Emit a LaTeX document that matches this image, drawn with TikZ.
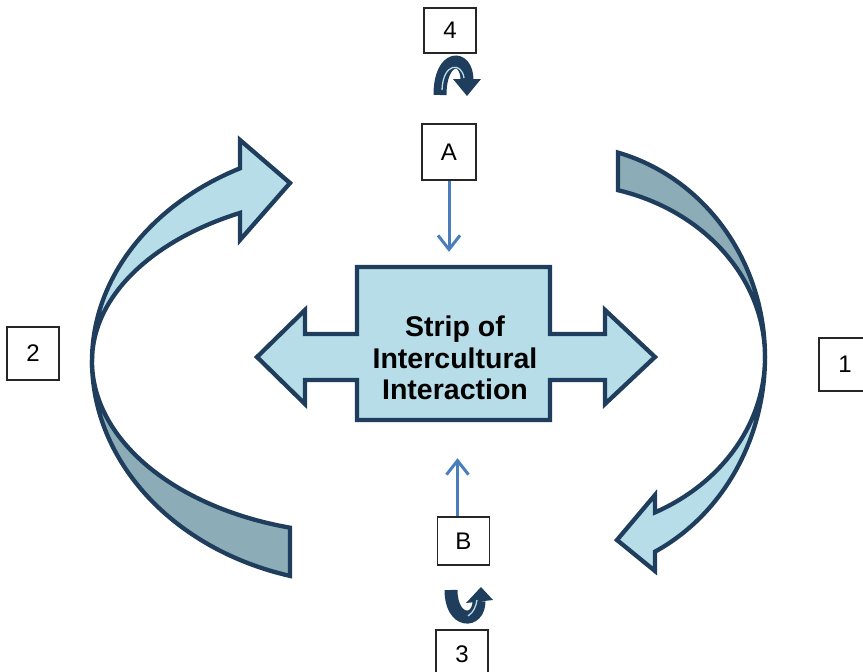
\documentclass[tikz,border=0pt]{standalone}
\usepackage{fontspec}
\setmainfont{Liberation Sans}
\usetikzlibrary{arrows.meta,positioning,calc}
\definecolor{xnavy}{RGB}{31,61,92}
\definecolor{xsky}{RGB}{183,221,232}
\definecolor{xslate}{RGB}{140,173,183}
\definecolor{xsteel}{RGB}{74,126,187}

\begin{document}
\begin{tikzpicture}[x=1pt, y=1pt, yscale=-1,
  band/.style={draw=xnavy, line width=4.3pt, line join=miter},
  numbox/.style={draw=black!85, fill=white, line width=1.3pt, inner sep=0pt,
                 minimum width=52pt, minimum height=46pt,
                 font=\fontsize{24}{28}\selectfont},
  stripfont/.style={font=\bfseries\fontsize{28.5}{31.5}\selectfont, align=center},
  thinarr/.style={-{Straight Barb[length=14pt,width=22pt]}, draw=xsteel, line width=3pt},
  uturn/.style={draw=xnavy, line width=13pt},
  shine/.style={draw=xsky, line width=1.3pt}
]
  \useasboundingbox (0,0) rectangle (863,672);

  % left curved arrow (back face, then front face)
  \filldraw[band, fill=xslate] (92,361)
    arc[start angle=180, end angle=105.47, x radius=270, y radius=223] -- (290,527.7)
    arc[start angle=105.47, end angle=180, x radius=270, y radius=173] -- cycle;
  \filldraw[band, fill=xsky] (92,361)
    arc[start angle=180, end angle=243.13, x radius=270, y radius=216]
    -- (240,140) -- (290,183) -- (240,240) -- (240,212.9)
    arc[start angle=243.13, end angle=180, x radius=270, y radius=166] -- cycle;

  % right curved arrow
  \filldraw[band, fill=xslate] (765,357)
    arc[start angle=0, end angle=-74.63, x radius=200, y radius=212] -- (618,190.2)
    arc[start angle=-74.63, end angle=0, x radius=200, y radius=173] -- cycle;
  \filldraw[band, fill=xsky] (765,357)
    arc[start angle=0, end angle=63.26, x radius=200, y radius=218]
    -- (655,571) -- (617,540) -- (655,495) -- (655,512.4)
    arc[start angle=63.26, end angle=0, x radius=200, y radius=174] -- cycle;

  % central double arrow
  \filldraw[band, fill=xsky] (357,267) -- (550,267) -- (550,334) -- (605,334) -- (605,310)
    -- (655,357) -- (605,404) -- (605,380) -- (550,380) -- (550,420) -- (357,420)
    -- (357,380) -- (305,380) -- (305,404) -- (257,357) -- (305,310) -- (305,334)
    -- (357,334) -- cycle;
  \node[minimum width=193pt, minimum height=153pt, inner sep=0pt] (strip) at (453.5,343.5) {};
  \node[stripfont] (striptext) at (455,358) {Strip of\\Intercultural\\Interaction};

  % labels
  \node[numbox, minimum height=45pt] (lbl4) at (450,30.5) {4};
  \node[numbox, minimum width=54pt, minimum height=56pt] (lblA) at (449,152) {A};
  \node[numbox, minimum height=48pt] (lblB) at (463.5,541) {B};
  \node[numbox, minimum height=48pt] (lbl3) at (462,654) {3};
  \node[numbox, minimum height=53pt] (lbl2) at (33,353.5) {2};
  \node[numbox, minimum height=53pt] (lbl1) at (845,364.5) {1};

  \draw[thinarr, shorten >=15pt] (lblA) -- (lblA |- strip.north);
  \draw[thinarr, shorten >=38pt] ([xshift=-6pt]lblB.north) -- ([xshift=-6pt]lblB.north |- strip.south);

  % small turn arrows
  \draw[uturn] (440,95) .. controls (440,54) and (467,54) .. (467,80);
  \fill[xnavy] (453,79) -- (481,79) -- (467,96) -- cycle;
  \draw[shine] (442,90) .. controls (443,62) and (462,62) .. (464,78);

  \draw[uturn] (451,590) .. controls (451,624) and (479,624) .. (479,601);
  \fill[xnavy] (466,603) -- (493,600) -- (481,587) -- cycle;
  \draw[shine] (468,616) .. controls (474,612) and (476,606) .. (477,600);
\end{tikzpicture}
\end{document}
